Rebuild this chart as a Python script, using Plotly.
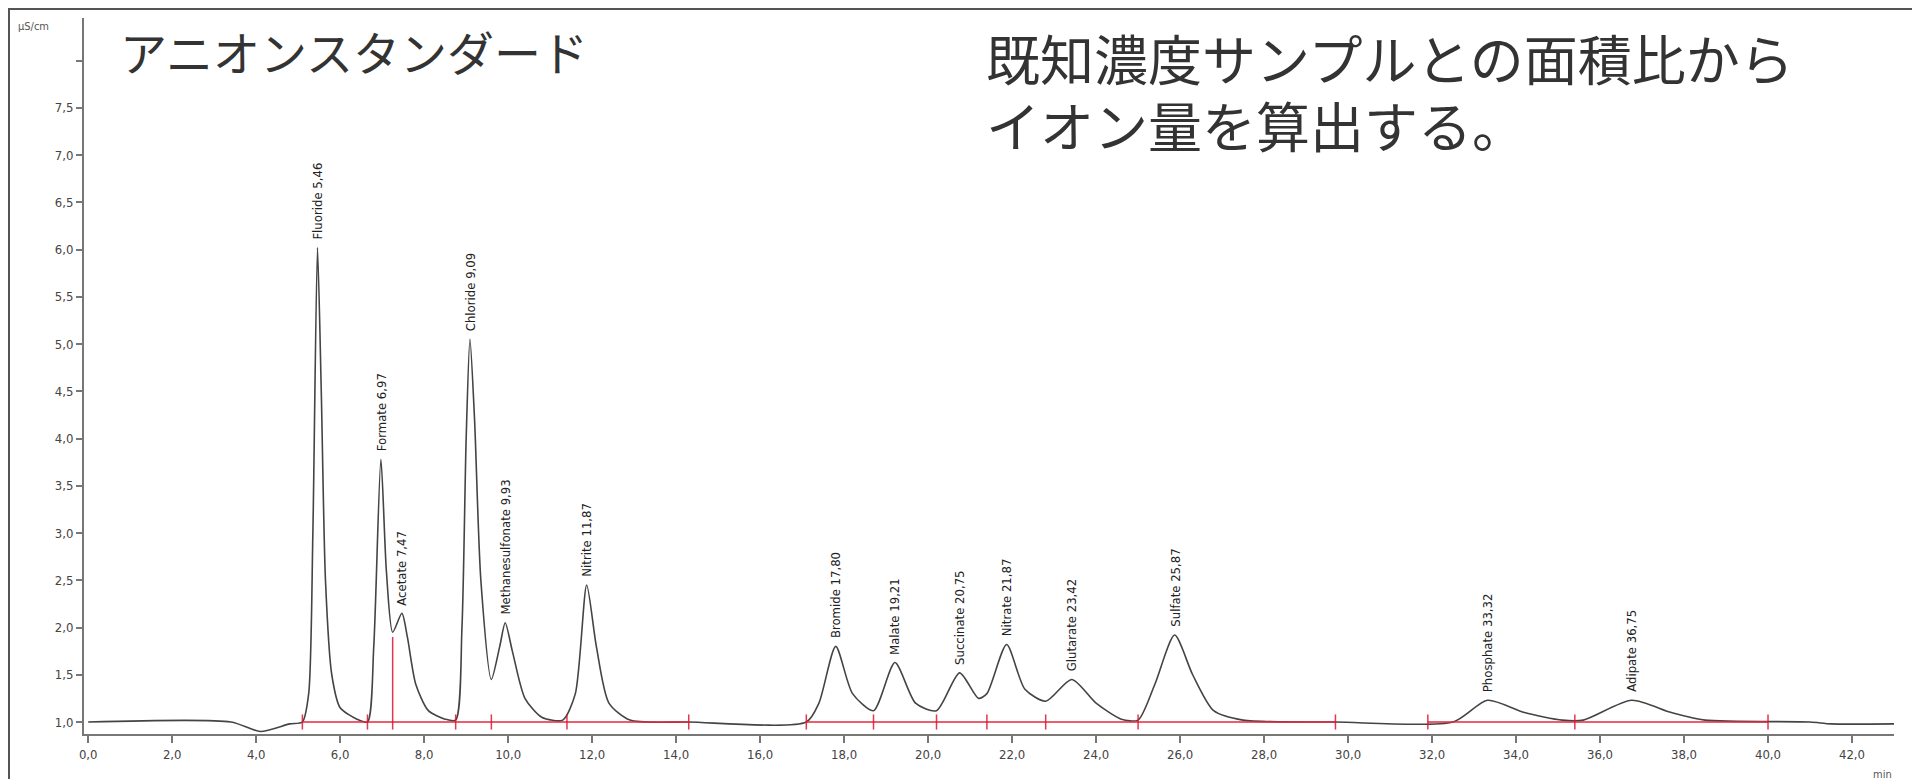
import plotly.graph_objects as go

# chromatogram trace (min, µS/cm)
trace_t = [0.0, 3.4, 4.1, 4.8, 5.1, 5.25, 5.35, 5.46, 5.55, 5.65, 5.8, 6.0, 6.4, 6.65,
           6.8, 6.97, 7.1, 7.25, 7.47, 7.6, 7.8, 8.1, 8.5, 8.75, 8.9, 9.0, 9.09, 9.2,
           9.35, 9.6, 9.8, 9.93, 10.1, 10.4, 10.8, 11.3, 11.6, 11.87, 12.1, 12.4, 12.9,
           14.3, 17.1, 17.4, 17.8, 18.2, 18.7, 19.21, 19.7, 20.2, 20.75, 21.2, 21.4,
           21.87, 22.3, 22.8, 23.42, 24.0, 24.6, 25.0, 25.4, 25.87, 26.3, 26.8, 27.5,
           29.7, 32.5, 33.32, 34.2, 35.1, 35.6, 36.75, 37.7, 38.5, 41.0, 41.5, 43.0]
trace_v = [1.0, 1.0, 0.9, 0.98, 1.0, 1.3, 3.0, 6.02, 4.5, 2.5, 1.5, 1.15, 1.03, 1.0,
           1.8, 3.78, 2.6, 1.95, 2.15, 1.9, 1.4, 1.12, 1.03, 1.02, 2.0, 4.0, 5.05, 4.2,
           2.5, 1.45, 1.8, 2.05, 1.75, 1.25, 1.05, 1.02, 1.3, 2.45, 1.8, 1.2, 1.02,
           1.0, 1.0, 1.2, 1.8, 1.3, 1.12, 1.63, 1.2, 1.12, 1.52, 1.25, 1.3,
           1.82, 1.35, 1.22, 1.45, 1.2, 1.03, 1.02, 1.4, 1.92, 1.5, 1.12, 1.02,
           1.0, 1.0, 1.23, 1.1, 1.02, 1.02, 1.23, 1.1, 1.02, 1.0, 0.98, 0.98]

peak_names = ["Fluoride", "Formate", "Acetate", "Chloride", "Methanesulfonate", "Nitrite",
              "Bromide", "Malate", "Succinate", "Nitrate", "Glutarate", "Sulfate",
              "Phosphate", "Adipate"]
peak_times = [5.46, 6.97, 7.47, 9.09, 9.93, 11.87, 17.80, 19.21, 20.75, 21.87, 23.42,
              25.87, 33.32, 36.75]
peak_heights = [6.02, 3.78, 2.15, 5.05, 2.05, 2.45, 1.8, 1.63, 1.52, 1.82, 1.45, 1.92,
                1.23, 1.23]

# integration baseline segments and markers
base_segments = [(5.1, 14.3), (17.1, 29.7), (31.9, 40.0)]
marker_times = [5.1, 6.65, 7.25, 8.75, 9.6, 11.4, 14.3, 17.1, 18.7, 20.2, 21.4, 22.8,
                25.0, 29.7, 31.9, 35.4, 40.0]
marker_tops = [1.08, 1.08, 1.9, 1.08, 1.08, 1.08, 1.08, 1.08, 1.08, 1.08, 1.08, 1.08,
               1.08, 1.08, 1.08, 1.08, 1.08]

note_lines = ["既知濃度サンプルとの面積比から", "イオン量を算出する。"]

x_ticks = [i * 2 for i in range(22)]
y_ticks = [1.0, 1.5, 2.0, 2.5, 3.0, 3.5, 4.0, 4.5, 5.0, 5.5, 6.0, 6.5, 7.0, 7.5, 8.0]

L, R, T, B = 76, 34, 10, 53
PW, PH = 1920 - L - R, 779 - T - B


def comma(v, d=1):
    return f"{v:.{d}f}".replace(".", ",")


fig = go.Figure()

bx, by = [], []
for a, b in base_segments:
    bx += [a, b, None]
    by += [1.0, 1.0, None]
mx, my = [], []
for t, top in zip(marker_times, marker_tops):
    mx += [t, t, None]
    my += [0.92, top, None]

fig.add_trace(go.Scatter(x=trace_t, y=trace_v, mode="lines",
                         line=dict(color="#444", width=1.6, shape="spline", smoothing=0.7)))
fig.add_trace(go.Scatter(x=bx, y=by, mode="lines",
                         line=dict(color="rgba(230,40,60,0.75)", width=2)))
fig.add_trace(go.Scatter(x=mx, y=my, mode="lines",
                         line=dict(color="rgba(220,20,50,0.85)", width=1.5)))

for name, t, h in zip(peak_names, peak_times, peak_heights):
    fig.add_annotation(x=t, y=h, text=f"{name} {comma(t, 2)}",
                       textangle=-90, showarrow=False, xanchor="center", yanchor="bottom",
                       yshift=6, font=dict(size=13, color="#222", family="DejaVu Sans Condensed"))

fig.add_annotation(x=0.019, y=1.005, xref="paper", yref="paper", text="アニオンスタンダード",
                   showarrow=False, xanchor="left", yanchor="top",
                   font=dict(size=47, color="#333", family="Noto Sans CJK JP"))
for i, line in enumerate(note_lines):
    fig.add_annotation(x=0.497, y=1.003 - i * 0.094, xref="paper", yref="paper", text=line,
                       showarrow=False, xanchor="left", yanchor="top",
                       font=dict(size=54, color="#333", family="Noto Sans CJK JP"))
fig.add_annotation(x=-68 / PW, y=1.0, xref="paper", yref="paper", text="µS/cm",
                   showarrow=False, xanchor="left", yanchor="top",
                   font=dict(size=11, color="#555", family="DejaVu Sans Condensed"))
fig.add_annotation(x=1.0, y=-0.045, xref="paper", yref="paper", text="min",
                   showarrow=False, xanchor="right", yanchor="top",
                   font=dict(size=11, color="#555", family="DejaVu Sans Condensed"))

# outer image frame
fig.add_shape(type="rect", xref="paper", yref="paper",
              x0=-L / PW, x1=1 + R / PW, y0=-B / PH, y1=1 + T / PH,
              line=dict(color="#555", width=4))

fig.update_layout(
    width=1920, height=779, showlegend=False,
    margin=dict(l=L, r=R, t=T, b=B),
    plot_bgcolor="white", paper_bgcolor="white",
    font=dict(family="DejaVu Sans Condensed", color="#444", size=13),
    xaxis=dict(range=[-0.1, 43.0], tickvals=x_ticks, ticktext=[comma(v) for v in x_ticks],
               showgrid=False, zeroline=False, showline=True, linecolor="#777", linewidth=2,
               ticks="outside", ticklen=7, tickcolor="#777", tickwidth=2),
    yaxis=dict(range=[0.873, 8.45], tickvals=y_ticks,
               ticktext=[comma(v) if v < 7.9 else "" for v in y_ticks],
               showgrid=False, zeroline=False, showline=True, linecolor="#777", linewidth=2,
               ticks="outside", ticklen=6, tickcolor="#777", tickwidth=2),
)

fig.write_html("out.html")
